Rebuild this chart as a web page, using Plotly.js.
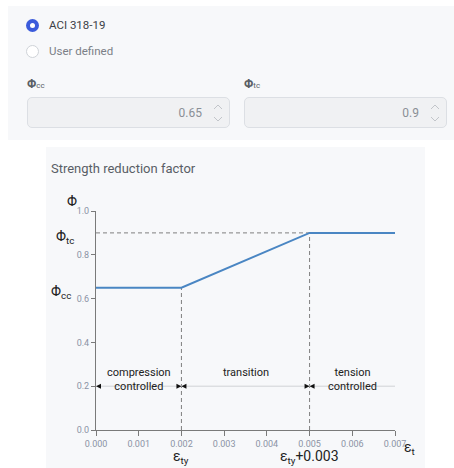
<!DOCTYPE html>
<html>
<head>
<meta charset="utf-8">
<script src="https://cdn.plot.ly/plotly-3.0.1.min.js"></script>
<style>
  html, body { margin: 0; padding: 0; background: #ffffff; width: 454px; height: 468px; overflow: hidden; font-family: Roboto, "Noto Sans", sans-serif; }
  #form { position: absolute; left: 8px; top: 6px; width: 446px; height: 134px; background: #f7f8fa; }
  .radio { position: absolute; width: 13px; height: 13px; border-radius: 50%; box-sizing: border-box; }
  .radio.on { background: #3b5bdb; }
  .radio.on::after { content: ""; position: absolute; left: 4px; top: 4px; width: 5px; height: 5px; border-radius: 50%; background: #fff; }
  .radio.off { background: #fff; border: 1px solid #cfd3d8; }
  .rlabel { position: absolute; font-size: 11.5px; line-height: 14px; }
  .flabel { position: absolute; font-size: 12px; font-weight: bold; color: #5a5f66; }
  .flabel small { font-size: 8px; font-weight: normal; }
  .box { position: absolute; height: 31px; width: 203px; box-sizing: border-box; border: 1px solid #dcdfe4; border-radius: 5px; background: #f0f1f3; }
  .val { position: absolute; right: 27px; top: 8px; font-size: 12px; color: #8a8f96; }
  .spin { position: absolute; right: 6px; width: 10px; height: 5px; }
  #chart { position: absolute; left: 46px; top: 147px; width: 379px; height: 321px; }
</style>
</head>
<body>
<div id="form">
  <div class="radio on" style="left:18px; top:13px;"></div>
  <div class="rlabel" style="left:41px; top:12px; color:#3c4047;">ACI 318-19</div>
  <div class="radio off" style="left:18px; top:39px;"></div>
  <div class="rlabel" style="left:41px; top:38px; color:#7b8087;">User defined</div>
  <div class="flabel" style="left:19px; top:71px;">Φ<small>cc</small></div>
  <div class="flabel" style="left:236px; top:71px;">Φ<small>tc</small></div>
  <div class="box" style="left:19px; top:91px;">
    <div class="val">0.65</div>
    <svg class="spin" style="top:6px;" viewBox="0 0 10 5"><polyline points="1,5 5,1 9,5" fill="none" stroke="#c2c5ca" stroke-width="1"/></svg>
    <svg class="spin" style="top:19px;" viewBox="0 0 10 5"><polyline points="1,0 5,4 9,0" fill="none" stroke="#c2c5ca" stroke-width="1"/></svg>
  </div>
  <div class="box" style="left:236px; top:91px;">
    <div class="val">0.9</div>
    <svg class="spin" style="top:6px;" viewBox="0 0 10 5"><polyline points="1,5 5,1 9,5" fill="none" stroke="#c2c5ca" stroke-width="1"/></svg>
    <svg class="spin" style="top:19px;" viewBox="0 0 10 5"><polyline points="1,0 5,4 9,0" fill="none" stroke="#c2c5ca" stroke-width="1"/></svg>
  </div>
</div>
<div id="chart"></div>
<script>
// ---- data ----
const strain = [0, 0.002, 0.005, 0.007];
const phi = [0.65, 0.65, 0.9, 0.9];
const phiCC = 0.65;
const phiTC = 0.9;
const epsTy = 0.002;
const epsTension = 0.005;
const zoneBounds = [0, 0.002, 0.005, 0.007];
const zoneLabels = ["compression<br>controlled", "transition", "tension<br>controlled"];
const zoneArrowY = 0.2;
const zoneLabelY = 0.30;
const xTickVals = [0, 0.001, 0.002, 0.003, 0.004, 0.005, 0.006, 0.007];
const xTickText = ["0.000", "0.001", "0.002", "0.003", "0.004", "0.005", "0.006", "0.007"];
const yTickVals = [0, 0.2, 0.4, 0.6, 0.8, 1.0];
const yTickText = ["0.0", "0.2", "0.4", "0.6", "0.8", "1.0"];
const xMarkLabels = ["ε<sub>ty</sub>", "ε<sub>ty</sub>+0.003"];
const xMarkVals = [epsTy, epsTension];

const dashStyle = { color: '#7f7f7f', width: 1, dash: '4px,3px' };
const traces = [
  { x: [strain[0], epsTension], y: [phiTC, phiTC], mode: 'lines', line: dashStyle },
  { x: [epsTy, epsTy], y: [0, phiCC], mode: 'lines', line: dashStyle },
  { x: [epsTension, epsTension], y: [0, phiTC], mode: 'lines', line: dashStyle },
  { x: [zoneBounds[0], zoneBounds[zoneBounds.length - 1]], y: [zoneArrowY, zoneArrowY], mode: 'lines', line: { color: '#d0d2d6', width: 1 } },
  { x: zoneBounds.slice(0, -1), y: zoneBounds.slice(0, -1).map(() => zoneArrowY), mode: 'markers',
    marker: { symbol: 'arrow-left', size: 5, color: '#111' } },
  { x: zoneBounds.slice(1, -1), y: zoneBounds.slice(1, -1).map(() => zoneArrowY), mode: 'markers',
    marker: { symbol: 'arrow-right', size: 5, color: '#111' } },
  { x: strain, y: phi, mode: 'lines', line: { color: '#4a86c3', width: 2 } }
];

const annotations = [];
for (let i = 0; i < zoneLabels.length; i++) {
  annotations.push({ x: (zoneBounds[i] + zoneBounds[i + 1]) / 2, y: zoneLabelY, xref: 'x', yref: 'y',
    text: zoneLabels[i], showarrow: false, yanchor: 'top', xanchor: 'center',
    font: { size: 11, color: '#222' } });
}
for (let i = 0; i < xMarkLabels.length; i++) {
  annotations.push({ x: xMarkVals[i], y: 0, xref: 'x', yref: 'y', text: xMarkLabels[i], showarrow: false,
    xanchor: 'center', yanchor: 'middle', yshift: -27, font: { size: 14, color: '#222' } });
}
annotations.push({ x: zoneBounds[zoneBounds.length - 1], y: 0, xref: 'x', yref: 'y', text: 'ε<sub>t</sub>', showarrow: false,
  xanchor: 'left', yanchor: 'middle', xshift: 7, yshift: -18, font: { size: 14, color: '#222' } });
annotations.push({ x: 0, y: 1, xref: 'x', yref: 'y', text: 'Φ', showarrow: false,
  xanchor: 'center', yanchor: 'middle', xshift: -24, yshift: 10, font: { size: 14, color: '#222' } });
annotations.push({ x: 0, y: phiTC, xref: 'x', yref: 'y', text: 'Φ<sub>tc</sub>', showarrow: false,
  xanchor: 'right', yanchor: 'middle', xshift: -20, yshift: -4, font: { size: 14, color: '#222' } });
annotations.push({ x: 0, y: phiCC, xref: 'x', yref: 'y', text: 'Φ<sub>cc</sub>', showarrow: false,
  xanchor: 'right', yanchor: 'middle', xshift: -23, yshift: -4, font: { size: 14, color: '#222' } });

const axisCommon = {
  showgrid: false, zeroline: false, showline: true, linecolor: '#7a7a7a', linewidth: 1,
  ticks: 'outside', ticklen: 4, tickcolor: '#7a7a7a', tickwidth: 1,
  tickfont: { size: 9, color: '#8b93a5', family: 'Roboto, sans-serif' }, fixedrange: true
};

const layout = {
  width: 379, height: 321,
  margin: { l: 50, r: 30, t: 64, b: 38 },
  paper_bgcolor: '#f7f8fa', plot_bgcolor: '#f7f8fa',
  showlegend: false, hovermode: false,
  font: { family: 'Roboto, sans-serif' },
  title: { text: 'Strength reduction factor', x: 0.013, xref: 'container', xanchor: 'left',
    y: 0.934, yref: 'container', yanchor: 'middle', font: { size: 13, color: '#595e66' } },
  xaxis: Object.assign({}, axisCommon, { range: [zoneBounds[0], zoneBounds[zoneBounds.length - 1]],
    tickvals: xTickVals, ticktext: xTickText, ticklen: 5 }),
  yaxis: Object.assign({}, axisCommon, { range: [0, 1], tickvals: yTickVals, ticktext: yTickText }),
  annotations: annotations
};

Plotly.newPlot('chart', traces, layout, { staticPlot: true, displayModeBar: false });
</script>
</body>
</html>
